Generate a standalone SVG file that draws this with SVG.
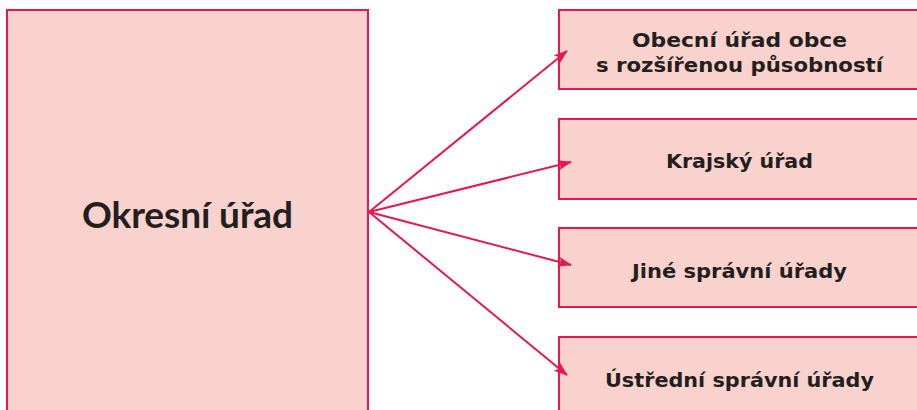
<svg xmlns="http://www.w3.org/2000/svg" width="917" height="410" viewBox="0 0 917 410">
  <style>
    .box { fill: #f9d2cd; stroke: #e8174f; stroke-width: 2; }
    .lbl { font-family: "DejaVu Sans", "Liberation Sans", sans-serif; font-weight: 700; fill: #231f20; text-anchor: middle; }
    .big { font-family: "Lato", "DejaVu Sans", sans-serif; font-size: 37px; }
    .sm { font-size: 20px; }
    .conn { stroke: #e8174f; stroke-width: 2; fill: none; marker-end: url(#arr); }
  </style>
  <defs>
    <marker id="arr" viewBox="0 0 14 10" refX="13" refY="5" markerWidth="14" markerHeight="10" markerUnits="userSpaceOnUse" orient="auto">
      <path d="M0,0 L14,5 L0,10 L3,5 Z" fill="#e8174f"/>
    </marker>
  </defs>
  <rect width="917" height="410" fill="#ffffff"/>
  <g id="okresni-urad">
    <rect class="box" x="7" y="10" width="361" height="410"/>
    <text class="lbl big" x="187.5" y="228" textLength="211" lengthAdjust="spacing">Okresní úřad</text>
  </g>
  <g id="obecni-urad">
    <rect class="box" x="559" y="10" width="370" height="79"/>
    <text class="lbl sm" x="739.5" y="47" textLength="215" lengthAdjust="spacingAndGlyphs">Obecní úřad obce</text>
    <text class="lbl sm" x="739.5" y="72" textLength="287" lengthAdjust="spacingAndGlyphs">s rozšířenou působností</text>
  </g>
  <g id="krajsky-urad">
    <rect class="box" x="559" y="119" width="370" height="80"/>
    <text class="lbl sm" x="739.5" y="168" textLength="147" lengthAdjust="spacingAndGlyphs">Krajský úřad</text>
  </g>
  <g id="jine-urady">
    <rect class="box" x="559" y="228" width="370" height="79"/>
    <text class="lbl sm" x="739.5" y="278" textLength="215" lengthAdjust="spacingAndGlyphs">Jiné správní úřady</text>
  </g>
  <g id="ustredni-urady">
    <rect class="box" x="559" y="337" width="370" height="90"/>
    <text class="lbl sm" x="739.5" y="387" textLength="269" lengthAdjust="spacingAndGlyphs">Ústřední správní úřady</text>
  </g>
  <g id="connectors">
    <line class="conn" x1="369" y1="212" x2="567" y2="51"/>
    <line class="conn" x1="369" y1="212" x2="571" y2="162"/>
    <line class="conn" x1="369" y1="212" x2="571" y2="265"/>
    <line class="conn" x1="369" y1="212" x2="567" y2="375"/>
  </g>
</svg>
